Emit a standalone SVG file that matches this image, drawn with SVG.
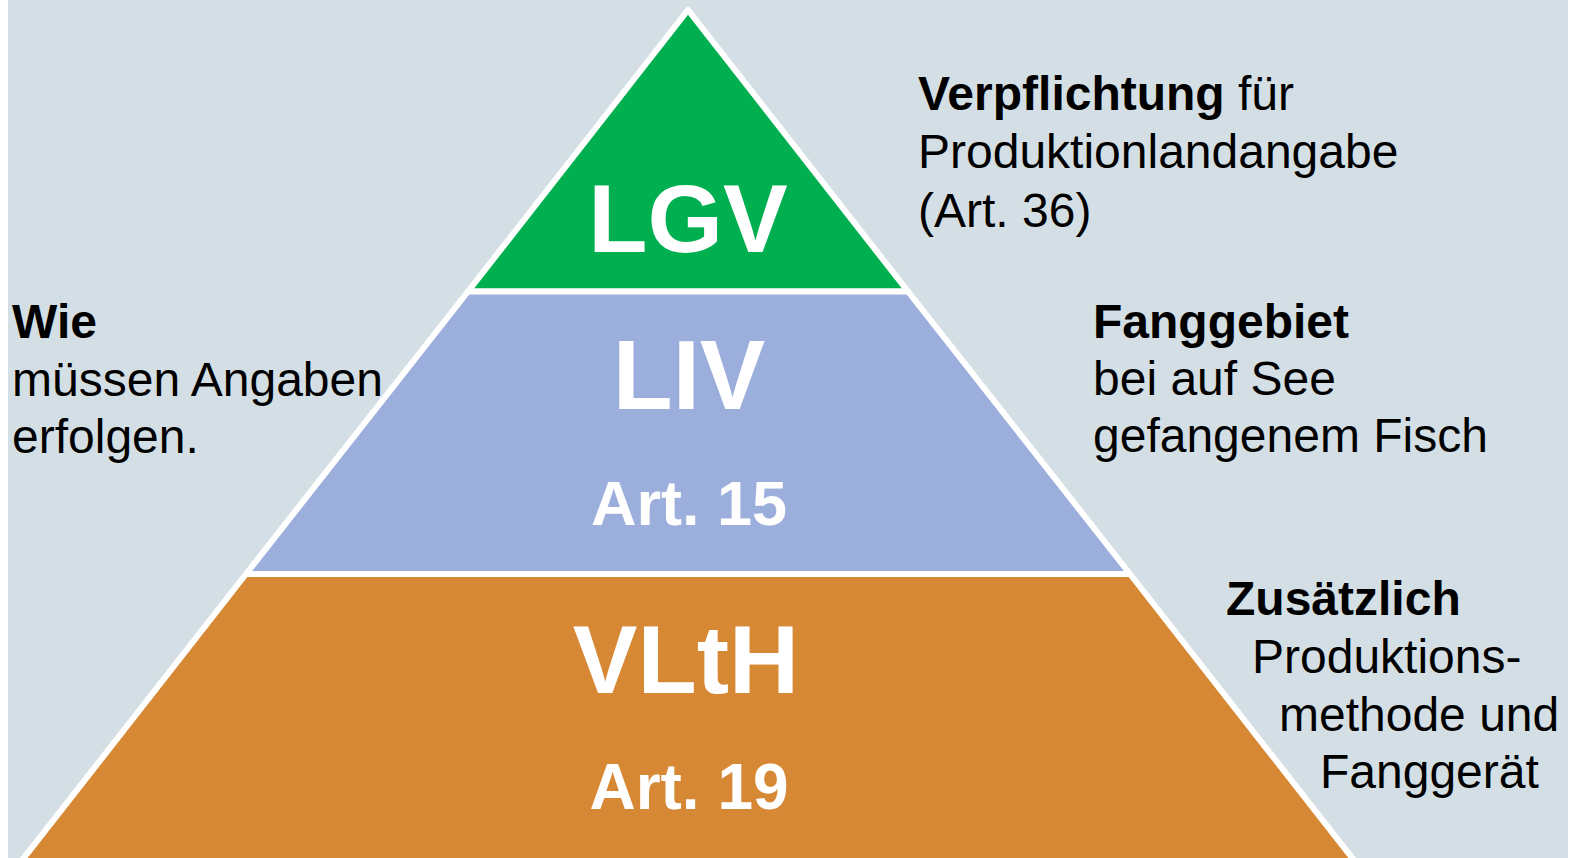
<svg xmlns="http://www.w3.org/2000/svg" width="1576" height="858" viewBox="0 0 1576 858">
  <style>
    .tier { stroke: #ffffff; stroke-width: 6; stroke-linejoin: round; }
    .big { font-family: "Liberation Sans", Arial, sans-serif; font-weight: bold; fill: #ffffff; text-anchor: middle; }
    .note { font-family: "Liberation Sans", Arial, sans-serif; font-size: 48px; fill: #000000; }
    .b { font-weight: bold; }
  </style>
  <rect x="0" y="0" width="1576" height="858" fill="#ffffff"/>
  <rect x="8" y="0" width="1560" height="858" fill="#d4dfe5"/>

  <!-- pyramid tiers -->
  <g id="tier-lgv">
    <polygon class="tier" fill="#00b050" points="688,10 468,291.5 908,291.5"/>
    <text class="big" x="688" y="252" font-size="97">LGV</text>
  </g>
  <g id="tier-liv">
    <polygon class="tier" fill="#9caedb" points="468,291.5 908,291.5 1130,574 246,574"/>
    <text class="big" x="689" y="409" font-size="98">LIV</text>
    <text class="big" x="689" y="525" font-size="63">Art. 15</text>
  </g>
  <g id="tier-vlth">
    <polygon class="tier" fill="#d68834" points="246,574 1130,574 1360,868 16,868"/>
    <text class="big" x="686" y="693" font-size="97">VLtH</text>
    <text class="big" x="689" y="809" font-size="64">Art. 19</text>
  </g>

  <!-- side notes -->
  <g id="note-top">
    <text class="note" x="918" y="110"><tspan class="b">Verpflichtung</tspan> für</text>
    <text class="note" x="918" y="168">Produktionlandangabe</text>
    <text class="note" x="918" y="227">(Art. 36)</text>
  </g>
  <g id="note-left">
    <text class="note b" x="12" y="338">Wie</text>
    <text class="note" x="12" y="396">müssen Angaben</text>
    <text class="note" x="12" y="453">erfolgen.</text>
  </g>
  <g id="note-middle">
    <text class="note b" x="1093" y="338">Fanggebiet</text>
    <text class="note" x="1093" y="395">bei auf See</text>
    <text class="note" x="1093" y="452">gefangenem Fisch</text>
  </g>
  <g id="note-bottom">
    <text class="note b" x="1226" y="615">Zusätzlich</text>
    <text class="note" x="1252" y="673">Produktions-</text>
    <text class="note" x="1279" y="731">methode und</text>
    <text class="note" x="1320" y="788">Fanggerät</text>
  </g>
</svg>
